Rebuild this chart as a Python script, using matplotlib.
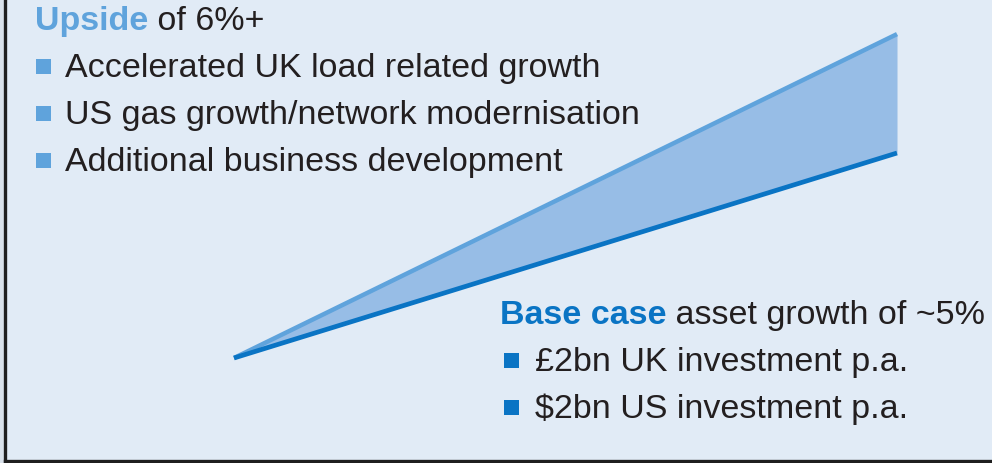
import matplotlib
matplotlib.use("Agg")
import matplotlib.pyplot as plt
from matplotlib.patches import Rectangle

# ---- data ----
periods = [0, 1]
base_case = [0.0, 1.0]
upside_case = [0.0, 1.58]

upside_title = ("Upside", " of 6%+")
upside_items = ["Accelerated UK load related growth",
                "US gas growth/network modernisation",
                "Additional business development"]
base_title = ("Base case", " asset growth of ~5%")
base_items = ["£2bn UK investment p.a.",
              "$2bn US investment p.a."]

# ---- style ----
W, H = 992, 463
BG = "#e1ebf6"
LIGHT = "#5fa3dc"
DARK = "#0a74c4"
FILL = "#97bde6"
TXT = "#231f20"
FS = 24.5
plt.rcParams['font.family'] = ['Liberation Sans', 'DejaVu Sans']

fig = plt.figure(figsize=(W / 100, H / 100), dpi=100)
fig.patch.set_facecolor("#d9e1ea")

ax_l, ax_b = 5, 2  # pixels
ax = fig.add_axes([ax_l / W, ax_b / H, (W - ax_l) / W, (H - ax_b) / H])
ax.set_facecolor(BG)

# axis limits to place the wedge
x0px, x1px = 234, 897
y0px, y1px = 358, 153  # from top
sx = (x1px - x0px) / (periods[1] - periods[0])
sy = (y0px - y1px) / (base_case[1] - base_case[0])
ax.set_xlim(periods[0] - (x0px - ax_l) / sx, periods[1] + (W - x1px) / sx)
ax.set_ylim(base_case[0] - ((H - ax_b) - y0px) / sy, base_case[1] + y1px / sy)

ax.fill_between(periods, base_case, upside_case, color=FILL, lw=0, zorder=1)
ax.plot(periods, upside_case, color=LIGHT, lw=3.2, solid_capstyle='butt', zorder=2)
ax.plot(periods, base_case, color=DARK, lw=3.4, solid_capstyle='butt', zorder=3)

for s in ["top", "right"]:
    ax.spines[s].set_visible(False)
for s in ["left", "bottom"]:
    ax.spines[s].set_color("#1f1f1f")
    ax.spines[s].set_linewidth(2.4)
ax.set_xticks([])
ax.set_yticks([])


def fx(px):
    return px / W


def fy(py):
    return 1 - py / H


def title_line(x, y, bold, rest, color):
    t = fig.text(fx(x), fy(y), bold, fontsize=FS, fontweight='bold', color=color, va='baseline')
    fig.canvas.draw()
    bb = t.get_window_extent()
    fig.text(bb.x1 / W, fy(y), rest, fontsize=FS, color=TXT, va='baseline')


def bullet(xsq, xtxt, y, text, color):
    size = 15
    fig.patches.append(Rectangle((fx(xsq), fy(y - 3)), size / W, size / H,
                                 transform=fig.transFigure, color=color, lw=0))
    fig.text(fx(xtxt), fy(y), text, fontsize=FS, color=TXT, va='baseline')


title_line(35, 30, upside_title[0], upside_title[1], LIGHT)
for i, item in enumerate(upside_items):
    bullet(36, 65, 77 + 47 * i, item, LIGHT)

title_line(500, 324, base_title[0], base_title[1], DARK)
for i, item in enumerate(base_items):
    bullet(504, 535, 371 + 47 * i, item, DARK)

fig.savefig("out.png", dpi=100, facecolor=fig.get_facecolor())
